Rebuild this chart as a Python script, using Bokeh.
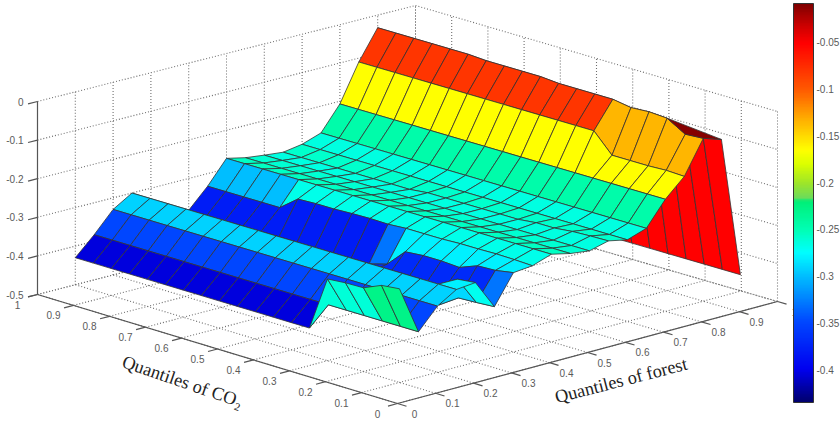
import numpy as np
from bokeh.plotting import figure
from bokeh.models import ColumnDataSource, ColorBar, LinearColorMapper, FixedTicker
from bokeh.core.properties import value
from bokeh.embed import file_html
from bokeh.resources import INLINE

N = None
co2_q = [1, .95, .9, .85, .8, .75, .7, .65, .6, .55, .5, .45, .4, .35, .3, .25, .2, .15, .1, .05]
forest_q = [.1, .15, .2, .25, .3, .35, .4, .45, .5, .55, .6, .65, .7, .75, .8, .85, .9, .95]

z10 = [-.43]*14 + [-.29, -.286, -.285, -.265, -.26, N]
z15 = [-.383]*19 + [N]
z20 = [-.33]*19 + [N]
z25 = [-.30]*19 + [N]
z30 = [-.38]*17 + [-.30, -.295, N]
z35 = [-.38]*16 + [-.375, -.373, -.37, N]
z40 = [-.383]*11 + [-.37, -.324, -.32, -.32, -.323, -.305, -.303, -.295, N]
z45 = [-.333]*5 + [-.297, -.295, -.295, -.293, -.292, -.293, -.29, -.29, -.29, -.288, -.288, -.287, -.288, -.29, N]
z50 = [-.273]*19 + [N]
z55 = [-.284]*19 + [N]
z60 = [-.29]*19 + [N]
z65 = [-.295]*8 + [-.29]*6 + [-.285, -.285, -.28, -.278, -.277, N]
z70 = [-.287]*19 + [N]
z75 = [-.27]*19 + [N]
z80 = [-.207]*19 + [N]
z85 = [-.11]*14 + [-.16, -.16, -.16, -.158, -.16, N]
z90 = [-.033]*6 + [-.036]*4 + [-.04]*4 + [-.048, -.045, -.048, -.076, -.073, -.062]
z95 = [-.43]*20
z_rows = [z10, z15, z20, z25, z30, z35, z40, z45, z50, z55, z60, z65, z70, z75, z80, z85, z90, z95]

# colour value of each cell, strip by strip (19 cells along CO2)
c10 = [-.405]*13 + [-.262, -.262, -.262, -.228, -.228, N]
c15 = [-.35]*18 + [N]
c20 = [-.292]*18 + [N]
c25 = [-.28]*18 + [N]
c30 = [-.36]*16 + [-.29, -.27, N]
c35 = [-.37]*17 + [-.33, N]
c40 = [-.38]*10 + [-.33] + [-.28]*7 + [N]
c45 = [-.30]*4 + [-.268]*14 + [N]
c50 = [-.255]*18 + [N]
c55 = [-.26]*18 + [N]
c60 = [-.265]*18 + [N]
c65 = [-.258]*18 + [N]
c70 = [-.265]*18 + [N]
c75 = [-.245]*18 + [N]
c80 = [-.165]*18 + [N]
c85 = [-.08]*13 + [-.135]*5 + [N]
c90 = [-.05]*19
c_rows = [c10, c15, c20, c25, c30, c35, c40, c45, c50, c55, c60, c65, c70, c75, c80, c85, c90]
fold_value = -.01

z_ticks = [0, -.1, -.2, -.3, -.4, -.5]
z_labels = ["0", "-0.1", "-0.2", "-0.3", "-0.4", "-0.5"]
q_ticks = [0, .1, .2, .3, .4, .5, .6, .7, .8, .9, 1]
q_labels = ["0", "0.1", "0.2", "0.3", "0.4", "0.5", "0.6", "0.7", "0.8", "0.9", "1"]
bar_ticks = [-.05, -.1, -.15, -.2, -.25, -.3, -.35, -.4]
bar_labels = ["-0.05", "-0.1", "-0.15", "-0.2", "-0.25", "-0.3", "-0.35", "-0.4"]
bar_low, bar_high = -.435, -.0084

cmap_z = [-.435, -.40, -.35, -.30, -.275, -.25, -.22, -.216, -.20, -.18, -.165, -.13, -.10, -.05, -.03, -.0084]
cmap_r = [0, 0, 0, 0, 0, 0, 0, 110, 160, 220, 255, 255, 255, 255, 200, 128]
cmap_g = [0, 0, 70, 190, 255, 255, 240, 220, 230, 255, 255, 170, 90, 0, 0, 0]
cmap_b = [110, 240, 255, 255, 255, 180, 120, 90, 40, 0, 0, 0, 0, 0, 0, 0]


def rgb(v):
    r = int(np.interp(v, cmap_z, cmap_r))
    g = int(np.interp(v, cmap_z, cmap_g))
    b = int(np.interp(v, cmap_z, cmap_b))
    return "#%02x%02x%02x" % (r, g, b)


# box projection: corners (CO2, forest) = (1,0), (0,0), (0,1), (1,1)
BX = [37, 397, 777, 415]
BY = [294, 403, 301, 196]
BH = [193, 196, 190, 191]


def bil(v, c, f):
    return v[0]*c*(1-f) + v[1]*(1-c)*(1-f) + v[2]*(1-c)*f + v[3]*c*f


def proj(c, f, z):
    return bil(BX, c, f), bil(BY, c, f) - bil(BH, c, f)*(z+.5)/.5


p = figure(width=840, height=421, x_range=(0, 840), y_range=(421, 0),
           x_axis_type=None, y_axis_type=None, toolbar_location=None,
           output_backend="svg", min_border=0, outline_line_color=None,
           background_fill_color="white", border_fill_color="white")
p.grid.visible = False

# dotted box grid
gx, gy = [], []


def seg(a, b):
    pa, pb = proj(*a), proj(*b)
    gx.append([pa[0], pb[0]])
    gy.append([pa[1], pb[1]])


for q in q_ticks:
    seg((q, 0, -.5), (q, 1, -.5))
    seg((0, q, -.5), (1, q, -.5))
    seg((1, q, -.5), (1, q, 0))
    seg((q, 1, -.5), (q, 1, 0))
for z in z_ticks:
    seg((1, 0, z), (1, 1, z))
    seg((1, 1, z), (0, 1, z))
p.multi_line(gx, gy, line_color="#6e6e6e", line_width=1.1, line_dash="1 2")

# axes and ticks
ax, ay = [], []


def aseg(a, b):
    pa, pb = proj(*a), proj(*b)
    ax.append([pa[0], pb[0]])
    ay.append([pa[1], pb[1]])


aseg((1, 0, -.5), (0, 0, -.5))
aseg((0, 0, -.5), (0, 1, -.5))
aseg((1, 0, -.5), (1, 0, 0))
for q in q_ticks:
    aseg((q, 0, -.5), (q, -.025, -.5))
    aseg((0, q, -.5), (-.025, q, -.5))
for z in z_ticks:
    aseg((1, 0, z), (1, -.025, z))
p.multi_line(ax, ay, line_color="#555555", line_width=1.2)

# surface
xs, ys, cols = [], [], []
for i in range(len(forest_q)-2, -1, -1):
    for j in range(len(co2_q)-1):
        v = c_rows[i][j]
        pts = [(j, i), (j+1, i), (j+1, i+1), (j, i+1)]
        if v is None or any(z_rows[b][a] is None for a, b in pts):
            continue
        P = [proj(co2_q[a], forest_q[b], z_rows[b][a]) for a, b in pts]
        xs.append([q[0] for q in P])
        ys.append([q[1] for q in P])
        cols.append(rgb(v))
P = [proj(co2_q[a], forest_q[16], z90[a]) for a in (16, 19, 18, 17)]
xs.append([q[0] for q in P])
ys.append([q[1] for q in P])
cols.append(rgb(fold_value))
p.patches("xs", "ys", fill_color="cols", line_color="#333333", line_width=.8,
          source=ColumnDataSource(dict(xs=xs, ys=ys, cols=cols)))

# tick labels
grey = "#5a5a5a"
lab = dict(text_font=value("Liberation Sans"), text_font_size="10px",
           text_color=grey, text_baseline="middle")
zp = [proj(1, 0, z) for z in z_ticks]
p.text([q[0]-14 for q in zp], [q[1] for q in zp], text=z_labels, text_align="right", **lab)
cp = [proj(q, 0, -.5) for q in q_ticks]
p.text([q[0]-20 for q in cp], [q[1]+10 for q in cp], text=q_labels, text_align="center", **lab)
fp = [proj(0, q, -.5) for q in q_ticks]
p.text([q[0]+17 for q in fp], [q[1]+10 for q in fp], text=q_labels, text_align="center", **lab)

# axis titles
title = dict(text_font=value("Liberation Serif"), text_font_size="18.3px",
             text_color="#222222", text_baseline="middle", text_align="center")
p.text([182], [381], text=["Quantiles of CO\u2082"], angle=[-np.radians(19)], **title)
p.text([620.5], [380], text=["Quantiles of forest"], angle=[np.radians(14.5)], **title)

# colour bar
stops = np.linspace(bar_low, bar_high, 256)
mapper = LinearColorMapper(palette=[rgb(v) for v in stops], low=bar_low, high=bar_high)
bar = ColorBar(color_mapper=mapper, ticker=FixedTicker(ticks=[]), width=20, height=399,
               location=(793, 19), padding=0, margin=0, bar_line_color="#333333",
               background_fill_color=None, border_line_color=None)
p.add_layout(bar, "center")

bar_y = [3 + (bar_high - v)/(bar_high - bar_low)*399 for v in bar_ticks]
p.segment([793]*8, bar_y, [796]*8, bar_y, line_color="#333333", line_width=1)
p.segment([810]*8, bar_y, [813]*8, bar_y, line_color="#333333", line_width=1)
p.text([816]*8, bar_y, text=bar_labels, text_align="left", **lab)

open("out.html", "w").write(file_html(p, INLINE))
